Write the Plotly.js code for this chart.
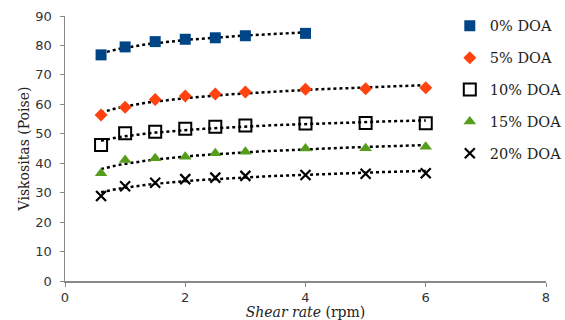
<!DOCTYPE html>
<html><head><meta charset="utf-8">
<script src="https://cdn.plot.ly/plotly-3.0.1.min.js"></script>
<style>html,body{margin:0;padding:0;background:#fff}#chart{width:565px;height:320px}</style>
</head><body><div id="chart"></div>
<script>
var seriesNames = ["0% DOA", "5% DOA", "10% DOA", "15% DOA", "20% DOA"];
var shearShort = [0.6, 1, 1.5, 2, 2.5, 3, 4];
var shearLong = [0.6, 1, 1.5, 2, 2.5, 3, 4, 5, 6];
var doa0 = [76.8, 79.5, 81.3, 82.1, 82.6, 83.3, 84.1];
var doa5 = [56.4, 59.0, 61.6, 62.8, 63.5, 64.2, 65.1, 65.3, 65.6];
var doa10 = [46.2, 50.2, 50.7, 51.7, 52.4, 52.8, 53.5, 53.7, 53.6];
var doa15 = [36.6, 41.1, 41.7, 42.2, 43.4, 43.9, 45.0, 45.1, 45.6];
var doa20 = [28.9, 32.2, 33.4, 34.6, 35.1, 35.7, 36.0, 36.4, 36.6];
var xTicks = [0, 2, 4, 6, 8];
var yTicks = [0, 10, 20, 30, 40, 50, 60, 70, 80, 90];

var xs = [shearShort, shearLong, shearLong, shearLong, shearLong];
var ys = [doa0, doa5, doa10, doa15, doa20];
var markers = [
  {symbol: "square", color: "#004586", size: 11},
  {symbol: "diamond", color: "#ff420e", size: 10},
  {symbol: "square-open", color: "#000", size: 12, line: {width: 2, color: "#000"}},
  {symbol: "triangle-up", color: "#579d1c", size: 11},
  {symbol: "x-thin", color: "#000", size: 10, line: {width: 2.2, color: "#000"}}
];

function logFit(x, y) {
  var n = x.length, sl = 0, sy = 0, sll = 0, sly = 0;
  for (var i = 0; i < n; i++) {
    var l = Math.log(x[i]);
    sl += l; sy += y[i]; sll += l * l; sly += l * y[i];
  }
  var a = (n * sly - sl * sy) / (n * sll - sl * sl);
  var b = (sy - a * sl) / n;
  return {a: a, b: b};
}

var traces = [];
for (var k = 0; k < 5; k++) {
  var f = logFit(xs[k], ys[k]);
  var x0 = xs[k][0], x1 = xs[k][xs[k].length - 1];
  var tx = [], ty = [];
  for (var j = 0; j <= 60; j++) {
    var xv = x0 + (x1 - x0) * j / 60;
    tx.push(xv); ty.push(f.a * Math.log(xv) + f.b);
  }
  traces.push({x: tx, y: ty, mode: "lines", showlegend: false, hoverinfo: "skip",
    line: {color: "#000", width: 2.5, dash: "dot"}});
}
for (var k = 0; k < 5; k++) {
  traces.push({x: xs[k], y: ys[k], mode: "markers", name: seriesNames[k],
    legendgroup: "g" + k, marker: markers[k]});
}

var layout = {
  width: 565, height: 320,
  margin: {l: 65, r: 19, t: 16, b: 39, autoexpand: false},
  paper_bgcolor: "#fff", plot_bgcolor: "#fff",
  showlegend: true,
  legend: {x: 0.80, xanchor: "left", y: 1.023, yanchor: "top", bgcolor: "rgba(0,0,0,0)",
    font: {family: "DejaVu Serif", size: 14.5, color: "#222"}, tracegroupgap: 10,
    itemwidth: 30},
  xaxis: {range: [0, 8], tickvals: xTicks, ticktext: xTicks.map(String), showgrid: false, zeroline: false,
    showline: true, linecolor: "#888", linewidth: 1.5, ticks: "outside", ticklen: 4, tickcolor: "#888",
    tickfont: {family: "DejaVu Sans", size: 13, color: "#333"}, automargin: false,
    title: {text: "<i>Shear rate</i> (rpm)", font: {family: "DejaVu Serif", size: 14, color: "#222"}, standoff: 0}},
  yaxis: {range: [0, 90], tickvals: yTicks, ticktext: yTicks.map(String), showgrid: false, zeroline: false,
    showline: true, linecolor: "#888", linewidth: 1.5, ticks: "outside", ticklen: 4, tickcolor: "#888",
    ticklabelstandoff: 5,
    tickfont: {family: "DejaVu Sans", size: 13, color: "#333"}, automargin: false,
    title: {text: "Viskositas (Poise)", font: {family: "DejaVu Serif", size: 14, color: "#222"}, standoff: 2}}
};
Plotly.newPlot("chart", traces, layout, {displayModeBar: false, staticPlot: true});
</script></body></html>
